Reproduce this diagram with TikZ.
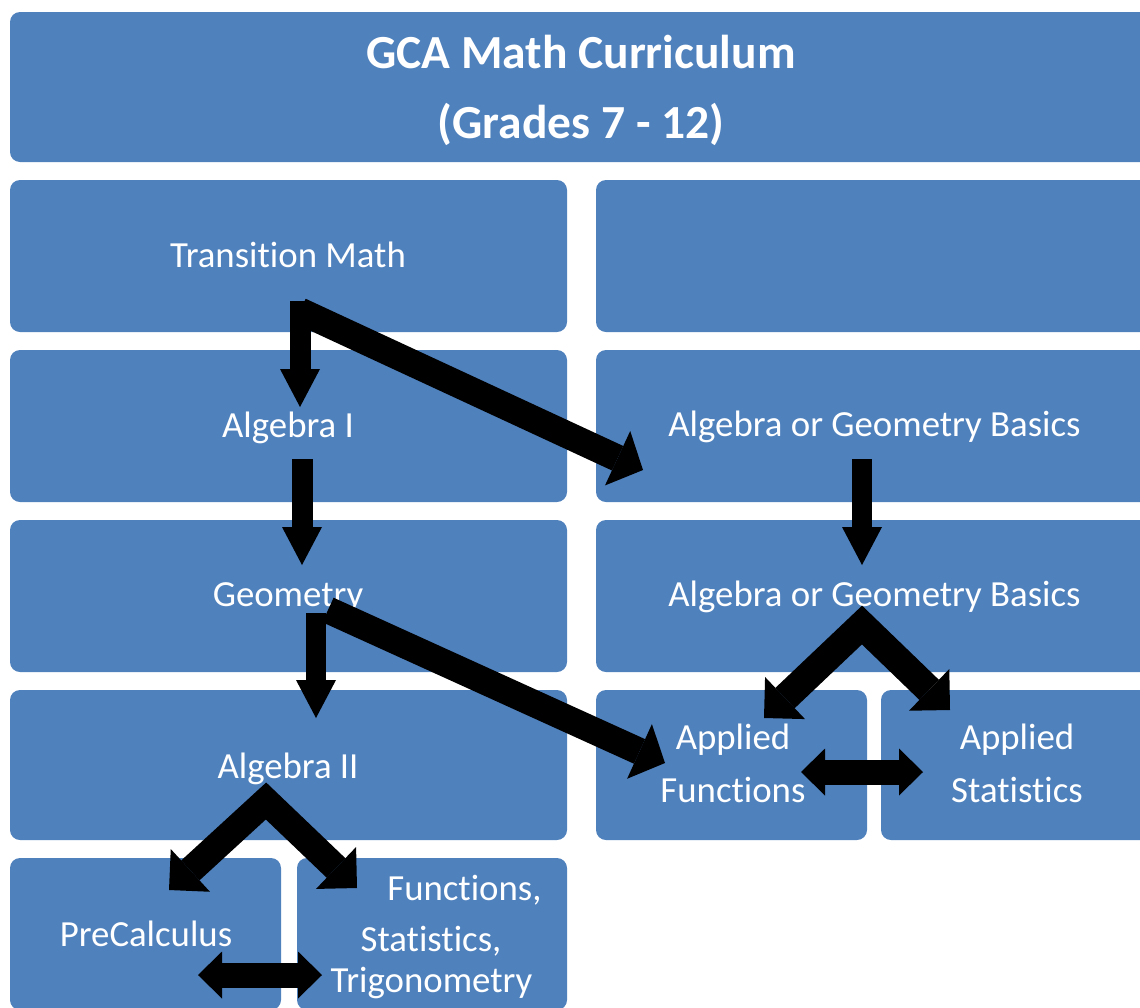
\documentclass[tikz,border=0pt]{standalone}
\usepackage{fontspec}
\setmainfont{Carlito}[Ligatures=NoCommon]
\usetikzlibrary{arrows.meta}
\definecolor{boxblue}{HTML}{4F81BD}
\begin{document}
\begin{tikzpicture}[x=1pt,y=-1pt,
  box/.style={fill=boxblue, draw=none, rounded corners=10pt, inner sep=0pt, outer sep=0pt, anchor=north west, minimum height=152pt},
  lbl/.style={text=white, anchor=base, inner sep=0pt, font=\fontsize{36.8}{44}\selectfont},
  ttl/.style={text=white, anchor=base, inner sep=0pt, font=\fontsize{47.5}{57}\selectfont\bfseries},
  vtip/.style={-{Triangle[length=38pt,width=40pt,line width=0pt]}},
  vert/.style={draw=black, line width=21pt, line cap=butt, vtip},
  diag/.style={draw=black, line width=27pt, line cap=butt, -{Triangle[length=28pt,width=60pt,line width=0pt]}},
  fork/.style={draw=black, line width=28pt, line cap=butt, line join=miter,
    {Triangle[length=29pt,width=58pt,line width=0pt]}-{Triangle[length=29pt,width=58pt,line width=0pt]}},
  dbl/.style={draw=black, line width=25pt, line cap=butt,
    {Triangle[length=24pt,width=47pt,line width=0pt]}-{Triangle[length=24pt,width=47pt,line width=0pt]}}
]
\useasboundingbox (0,0) rectangle (1140,1007);
\clip (0,0) rectangle (1140,1007);
% boxes
\node[box, minimum width=1143pt, minimum height=150pt] (title) at (10,12) {};
\node[box, minimum width=557pt] (tm)   at (10,180) {};
\node[box, minimum width=557pt] (r1)   at (596,180) {};
\node[box, minimum width=557pt] (alg1) at (10,350) {};
\node[box, minimum width=557pt] (aog1) at (596,350) {};
\node[box, minimum width=557pt] (geo)  at (10,520) {};
\node[box, minimum width=557pt] (aog2) at (596,520) {};
\node[box, minimum width=557pt, minimum height=150pt] (alg2) at (10,690) {};
\node[box, minimum width=271pt, minimum height=150pt] (af)   at (596,690) {};
\node[box, minimum width=272pt, minimum height=150pt] (as)   at (881,690) {};
\node[box, minimum width=271pt] (pc)   at (10,858) {};
\node[box, minimum width=270pt] (fst)  at (297,858) {};
% texts
\node[ttl] (t1) at (581,68) {GCA Math Curriculum};
\node[ttl] (t2) at (581,138) {(Grades 7 - 12)};
\node[lbl] (ttm) at (288,267) {Transition Math};
\node[lbl] (talg1) at (288,437) {Algebra I};
\node[lbl] (taog1) at (874.5,436) {Algebra or Geometry Basics};
\node[lbl] (tgeo) at (288,606) {Geometry};
\node[lbl] (taog2) at (874.5,606) {Algebra or Geometry Basics};
\node[lbl] (talg2) at (288,778) {Algebra II};
\node[lbl] (taf1) at (733,749) {Applied};
\node[lbl] (taf2) at (733,802) {Functions};
\node[lbl] (tas1) at (1017,749) {Applied};
\node[lbl] (tas2) at (1017,802) {Statistics};
\node[lbl] (tpc) at (146,946) {PreCalculus};
\node[lbl] (tf1) at (464.5,900) {Functions,};
\node[lbl] (tf2) at (431,951) {Statistics,};
\node[lbl] (tf3) at (431.5,992) {Trigonometry};
% arrow points
\coordinate (tmv) at (300,301);   \coordinate (alg1in) at (300,407);
\coordinate (tmd) at (300,311);   \coordinate (aog1in) at (643,470);
\coordinate (alg1out) at (302,459); \coordinate (geoin) at (302,565);
\coordinate (geov) at (316,613);  \coordinate (alg2in) at (316,718);
\coordinate (geod) at (328,610);  \coordinate (afin) at (665,763);
\coordinate (aog1out) at (862,459); \coordinate (aog2in) at (862,565);
\coordinate (aog2fork) at (862,625); \coordinate (afin2) at (764,718); \coordinate (asin) at (950,710);
\coordinate (alg2fork) at (266,801); \coordinate (pcin) at (169,890); \coordinate (fstin) at (357,888);
\coordinate (afside) at (801,772); \coordinate (asside) at (923,772);
\coordinate (pcside) at (198,975); \coordinate (fstside) at (322,975);
% arrows
\draw[vert] (tmv) -- (alg1in);
\draw[diag] (tmd) -- (aog1in);
\draw[vert] (alg1out) -- (geoin);
\draw[vert, line width=20pt] (geov) -- (alg2in);
\draw[diag] (geod) -- (afin);
\draw[vert, line width=20pt] (aog1out) -- (aog2in);
\draw[fork] (afin2) -- (aog2fork) -- (asin);
\draw[fork, line width=27pt] (pcin) -- (alg2fork) -- (fstin);
\draw[dbl] (afside) -- (asside);
\draw[dbl] (pcside) -- (fstside);
\end{tikzpicture}
\end{document}
